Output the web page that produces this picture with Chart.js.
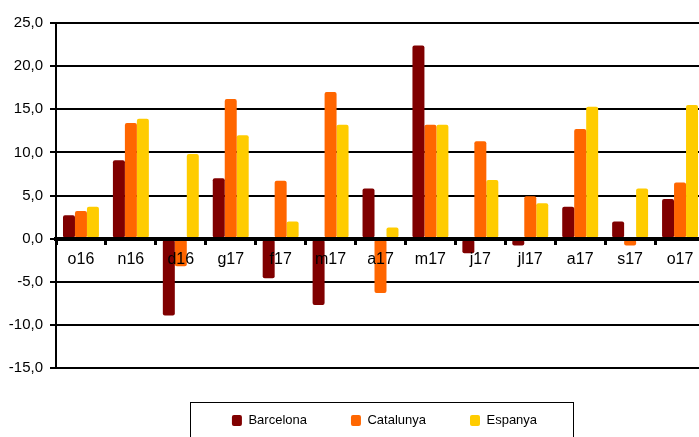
<!DOCTYPE html>
<html>
<head>
<meta charset="utf-8">
<script src="https://cdn.jsdelivr.net/npm/chart.js@4"></script>
<style>
    html, body { margin: 0; padding: 0; background: #fff; overflow: hidden; }
    #wrap { position: relative; width: 710px; height: 437px; }
</style>
</head>
<body>
<div id="wrap"><canvas id="chart"></canvas></div>
<script>
const months = ['o16', 'n16', 'd16', 'g17', 'f17', 'm17', 'a17', 'm17', 'j17', 'jl17', 'a17', 's17', 'o17'];
const barcelona = [2.7, 9.1, -8.9, 7.0, -4.6, -7.7, 5.8, 22.4, -1.7, -0.8, 3.7, 2.0, 4.6];
const catalunya = [3.2, 13.4, -3.2, 16.2, 6.7, 17.0, -6.3, 13.2, 11.3, 4.9, 12.7, -0.8, 6.5];
const espanya = [3.7, 13.9, 9.8, 12.0, 2.0, 13.2, 1.3, 13.2, 6.8, 4.1, 15.3, 5.8, 15.5];
const yTicks = [-15, -10, -5, 0, 5, 10, 15, 20, 25];

Chart.defaults.font.family = "'Liberation Sans', Arial, sans-serif";
Chart.defaults.color = '#000';

// legend sits a bit right of centre and lower, with a plain frame round it
const legendFrame = {
    id: 'legendFrame',
    afterLayout(chart) {
        const lg = chart.legend;
        lg.left += 32;
        lg.right += 32;
        lg.top += 2;
        lg.bottom += 2;
    },
    afterDraw(chart) {
        const lg = chart.legend;
        const cx = (lg.left + lg.right) / 2;
        const ctx = chart.ctx;
        ctx.save();
        ctx.strokeStyle = '#000';
        ctx.lineWidth = 1;
        ctx.strokeRect(Math.round(cx - 194.5) + 0.5, lg.top + 32.5, 383, 60);
        ctx.restore();
    }
};

new Chart(document.getElementById('chart'), {
    type: 'bar',
    data: {
        labels: months,
        datasets: [
            { label: 'Barcelona', data: barcelona, backgroundColor: '#800000' },
            { label: 'Catalunya', data: catalunya, backgroundColor: '#FF6600' },
            { label: 'Espanya', data: espanya, backgroundColor: '#FFCC00' }
        ]
    },
    options: {
        responsive: true,
        maintainAspectRatio: false,
        animation: false,
        datasets: {
            bar: { categoryPercentage: 0.72, barPercentage: 1, borderRadius: 2, borderSkipped: false }
        },
        layout: { padding: { top: 23, right: 5, bottom: 2, left: 0 } },
        plugins: {
            tooltip: { enabled: false },
            legend: {
                position: 'bottom',
                labels: {
                    boxWidth: 10,
                    boxHeight: 11,
                    useBorderRadius: true,
                    borderRadius: 2,
                    padding: 44,
                    font: { size: 13 }
                }
            }
        },
        scales: {
            x: {
                position: { y: 0 },
                offset: true,
                grid: { display: true, drawOnChartArea: false, drawTicks: true, tickLength: 4, color: '#000', lineWidth: 3, offset: true },
                border: { display: true, color: '#000', width: 4, z: 1 },
                ticks: { font: { size: 16 }, padding: 7, maxRotation: 0, autoSkip: false, z: 1 }
            },
            y: {
                min: -15,
                max: 25,
                afterBuildTicks: s => { s.ticks = yTicks.map(v => ({ value: v })); },
                afterFit: s => { s.width = 56; },
                grid: { color: '#000', lineWidth: 2, tickLength: 6 },
                border: { display: true, color: '#000', width: 2 },
                ticks: {
                    font: { size: 15 },
                    padding: 7,
                    callback: v => v.toFixed(1).replace('.', ',')
                }
            }
        }
    },
    plugins: [legendFrame]
});
</script>
</body>
</html>
